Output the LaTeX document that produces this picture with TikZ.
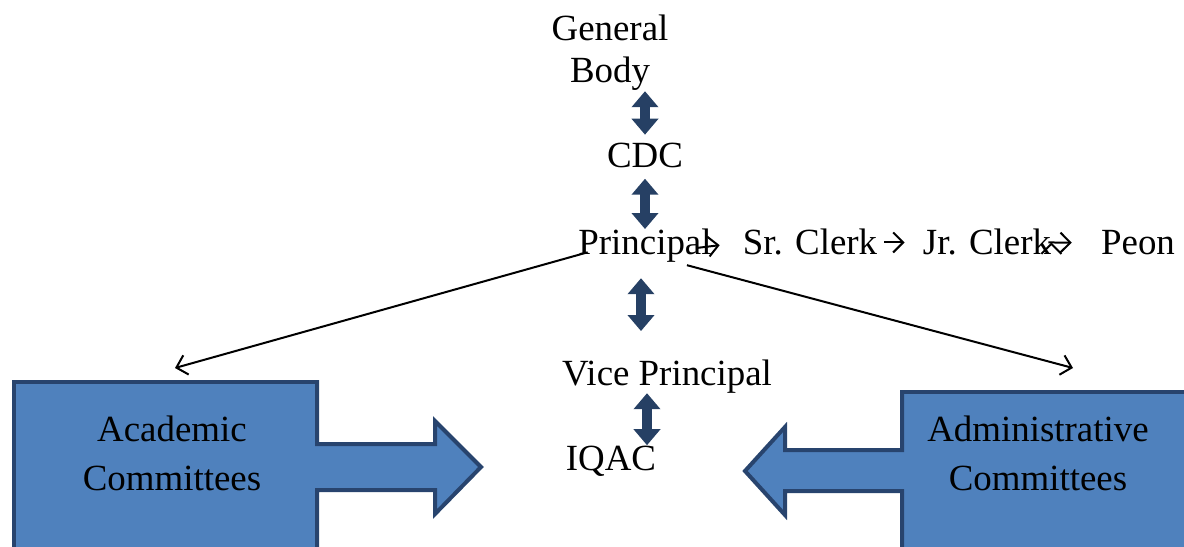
\documentclass[tikz,border=0pt]{standalone}
\usepackage{fontspec}
\setmainfont{Liberation Serif}
\usetikzlibrary{arrows.meta,calc}
\definecolor{navyarr}{RGB}{38,64,100}
\definecolor{boxfill}{RGB}{79,129,189}
\definecolor{boxline}{RGB}{40,68,110}
\begin{document}
\begin{tikzpicture}
	[x=0.02cm,y=-0.02cm,
	every node/.style={inner sep=0pt,font=\fontsize{21}{24}\selectfont,align=center},
	boxtext/.style={font=\fontsize{21}{28}\selectfont},
	dbl/.style={line width=0.2cm,draw=navyarr,{Triangle[width=0.52cm,length=0.32cm]}-{Triangle[width=0.52cm,length=0.32cm]}},
	link/.style={draw,line width=0.04cm,-{Straight Barb[length=0.2cm,width=0.4cm]}},
	committee/.style={fill=boxfill,draw=boxline,line width=0.08cm,line join=miter}]
	\useasboundingbox (0,0) rectangle (1184,547);
	\clip (0,0) rectangle (1184,547);
	\filldraw[committee] (14,560) -- (14,382) -- (317,382) -- (317,444) -- (435,444) -- (435,421)
		-- (481,467) -- (435,514) -- (435,490) -- (317,490) -- (317,560) -- cycle;
	\filldraw[committee] (1200,392) -- (902,392) -- (902,450) -- (785,450) -- (785,427) -- (745,471)
		-- (785,515) -- (785,491) -- (902,491) -- (902,560) -- (1200,560) -- cycle;
	\node (gb) at (610,53) {General\\Body};
	\node[anchor=base] (cdc) at (645,168) {CDC};
	\node[anchor=base] (principal) at (645,255) {Principal};
	\node[anchor=base] (srclerk) at (810,255) {Sr. Clerk};
	\node[anchor=base] (jrclerk) at (987,255) {Jr. Clerk};
	\node[anchor=base] (peon) at (1138,255) {Peon};
	\node[anchor=base] (vp) at (667,385) {Vice Principal};
	\node[anchor=base] (iqac) at (611,470) {IQAC};
	\node[boxtext] (acad) at (172,453) {Academic\\Committees};
	\node[boxtext] (admin) at (1038,453) {Administrative\\Committees};
	\coordinate (acadtip) at (175,368);
	\coordinate (admintip) at (1073,368);
	\coordinate (pright) at ($(principal.south east)+(-25,2)$);
	\draw[dbl,shorten >=0.17cm] (cdc.north |- gb.south) -- (cdc.north);
	\draw[dbl,shorten <=0.2cm] (cdc.south) -- (cdc.south |- principal.north);
	\draw[dbl,shorten <=0.3cm,shorten >=0.56cm] ([xshift=-0.08cm]principal.south) -- ([xshift=-0.08cm]principal.south |- vp.north);
	\draw[dbl] ([xshift=-0.4cm]vp.south) -- ([xshift=-0.4cm]vp.south |- iqac.north);
	\path[link]
	(principal.east) edge[shorten <=-0.28cm,shorten >=0.46cm] (srclerk.west)
	(srclerk.east) edge[shorten <=0.14cm,shorten >=0.36cm] (jrclerk.west)
	(jrclerk.east) edge[shorten <=-0.06cm,shorten >=0.58cm] (peon.west);
	\draw[link,shorten <=-0.2cm] (principal.base west) -- (acadtip);
	\draw[link] (pright) -- (admintip);
\end{tikzpicture}
\end{document}
